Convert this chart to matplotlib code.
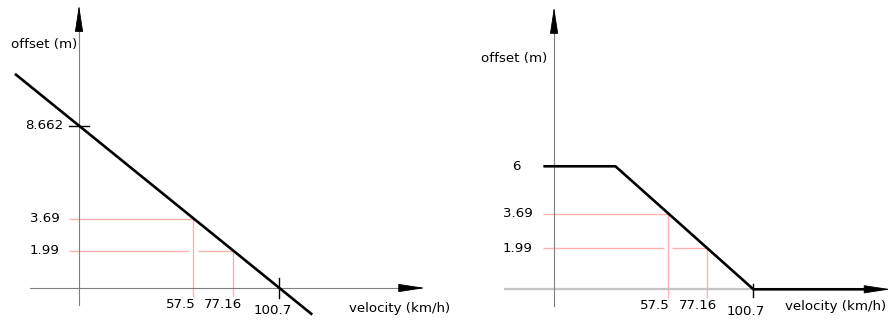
import matplotlib
matplotlib.use("Agg")
import matplotlib.pyplot as plt

# ---------------- data ----------------
# left diagram: linear offset vs velocity
left_velocity = [-32.2, 0.0, 100.7, 117.2]
left_offset = [11.43, 8.662, 0.0, -1.42]
left_intercept_offset = 8.662
left_intercept_velocity = 100.7

# right diagram: offset capped at 6 and floored at 0
right_velocity = [-5.4, 31.0, 100.7, 165.0]
right_offset = [6.0, 6.0, 0.0, 0.0]
right_cap_offset = 6.0
right_zero_velocity = 100.7

# marked points (same on both diagrams)
mark_velocity = [57.5, 77.16]
mark_offset = [3.69, 1.99]
mark_velocity_labels = ["57.5", "77.16"]
mark_offset_labels = ["3.69", "1.99"]

x_label = "velocity (km/h)"
y_label = "offset (m)"

# ---------------- style ----------------
FS = 9.6
AXIS_GRAY = "#7f7f7f"
RED = "#ffb0b0"
plt.rcParams["font.family"] = ["DejaVu Sans"]

fig = plt.figure(figsize=(8.88, 3.22), dpi=100)
axL = fig.add_axes([0, 0, 0.5, 1])
axR = fig.add_axes([0.5, 0, 0.5, 1])
for ax in (axL, axR):
    ax.set_axis_off()

axL.set_xlim(-39.7, 183.4)
axL.set_ylim(-1.814, 15.37)
axR.set_xlim(-55.6, 168.7)
axR.set_ylim(-1.595, 14.11)


def head(ax, start, tip):
    ax.annotate("", xy=tip, xytext=start,
                arrowprops=dict(arrowstyle="-|>,head_length=17,head_width=2.6",
                                mutation_scale=1, color="black", lw=0.6,
                                shrinkA=0, shrinkB=0),
                annotation_clip=False)


def lab(ax, text, xy, dx, dy, ha="center", va="center"):
    ax.annotate(text, xy=xy, xytext=(dx, dy), textcoords="offset pixels",
                ha=ha, va=va, fontsize=FS, color="black",
                annotation_clip=False)


def marks(ax, gap, low, start):
    v1, v2 = mark_velocity
    o1, o2 = mark_offset
    kw = dict(color=RED, lw=1.0, zorder=1, solid_capstyle="butt")
    ax.plot([start, v1], [o1, o1], **kw)
    ax.plot([start, v1 - gap], [o2, o2], **kw)
    ax.plot([v1 + gap, v2], [o2, o2], **kw)
    ax.plot([v1, v1], [o1, low], **kw)
    ax.plot([v2, v2], [o2, low], **kw)


# ---------------- left ----------------
ax = axL
ax.plot([-24.6, 162.3], [0, 0], color=AXIS_GRAY, lw=0.8, zorder=2)
head(ax, (162.3, 0), (173.9, 0))
ax.plot([0, 0], [-0.91, 13.87], color=AXIS_GRAY, lw=0.8, zorder=2)
head(ax, (0, 13.87), (0, 15.1))
marks(ax, gap=2.3, low=-0.5, start=-5.0)
ax.plot(left_velocity, left_offset, color="black", lw=1.9, zorder=3,
        clip_on=False, solid_capstyle="butt")
ax.plot([-5.0, 5.0], [left_intercept_offset] * 2, color="black", lw=1.0, zorder=3)
ax.plot([left_intercept_velocity] * 2, [-0.53, 0.53], color="black", lw=1.0, zorder=3)

lab(ax, y_label, (0, 0), -68, 244, ha="left")
lab(ax, "8.662", (0, left_intercept_offset), -16, 0, ha="right")
for t, o in zip(mark_offset_labels, mark_offset):
    lab(ax, t, (0, o), -19, 0, ha="right")
for t, v in zip(mark_velocity_labels, mark_velocity):
    lab(ax, t, (v, 0), -13 if t == "57.5" else -10, -16)
lab(ax, "100.7", (left_intercept_velocity, 0), -7, -22)
lab(ax, x_label, (0, 0), 270, -20, ha="left")

# ---------------- right ----------------
ax = axR
ax.plot([-25.3, right_zero_velocity], [0, 0], color="#c4c4c4", lw=1.6, zorder=2,
        solid_capstyle="butt")
ax.plot([0, 0], [-0.81, 12.75], color=AXIS_GRAY, lw=0.8, zorder=2)
head(ax, (0, 12.75), (0, 13.77))
marks(ax, gap=2.1, low=-0.44, start=-5.7)
ax.plot(right_velocity, right_offset, color="black", lw=1.9, zorder=3,
        clip_on=False, solid_capstyle="butt")
head(ax, (163.0, 0), (170.0, 0))
ax.plot([right_zero_velocity] * 2, [-0.37, 0.27], color="black", lw=1.0, zorder=4)

lab(ax, y_label, (0, 0), -73, 231, ha="left")
lab(ax, "6", (0, right_cap_offset), -33, 0, ha="right")
for t, o in zip(mark_offset_labels, mark_offset):
    lab(ax, t, (0, o), -21, 0, ha="right")
for t, v in zip(mark_velocity_labels, mark_velocity):
    lab(ax, t, (v, 0), -13 if t == "57.5" else -9, -16)
lab(ax, "100.7", (right_zero_velocity, 0), -8, -22)
lab(ax, x_label, (0, 0), 231, -17, ha="left")

fig.savefig("out.png", dpi=100)
